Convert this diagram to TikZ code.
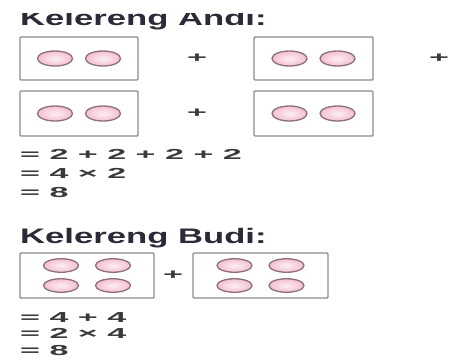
\documentclass[tikz,border=0pt]{standalone}
\usepackage{fontspec}
\setmainfont{Liberation Sans}
\usetikzlibrary{shapes.geometric}
\usepackage{xcolor}
\definecolor{titleink}{HTML}{2B2A38}
\definecolor{sumink}{HTML}{3A3A3A}
\definecolor{trayline}{HTML}{8C8C8C}
\definecolor{marblepink}{HTML}{F4BFD0}
\definecolor{marbleline}{HTML}{8E6F7E}
\newcommand{\stretchsum}[1]{\scalebox{2.35}[1]{#1}}
\newcommand{\stretchhead}[1]{\scalebox{1.65}[1]{#1}}

\begin{document}
\begin{tikzpicture}[x=1pt, y=-1pt,
  head/.style={anchor=base west, inner sep=0pt, text=titleink,
               font=\fontsize{21}{21}\selectfont\bfseries},
  sumline/.style={anchor=base west, inner sep=0pt, text=sumink,
                  font=\fontsize{14.5}{17}\selectfont\bfseries},
  plus/.style={inner sep=0pt, text=sumink, font=\fontsize{14.5}{17}\selectfont\bfseries},
  tray/.style={draw=trayline, line width=1.4pt, fill=white, rounded corners=1pt,
               inner sep=0pt},
  marble/.style={ellipse, draw=marbleline, line width=1.3pt, inner sep=0pt,
                 inner color=marblepink!25, outer color=marblepink,
                 minimum width=35, minimum height=15}]
  \fill[white] (0,0) rectangle (457,360);
  \useasboundingbox (0,0) rectangle (457,360);

  % Kelereng Andi
  \begin{scope}
    \clip (0,13) rectangle (457,40);
    \node[head] (andi) at (20,25) {\stretchhead{Kelereng Andi:}};
  \end{scope}
  \node[tray, minimum width=118, minimum height=43] (a1) at (79,58.5) {};
  \node[tray, minimum width=119, minimum height=43] (a2) at (313.5,58.5) {};
  \node[tray, minimum width=118, minimum height=45] (a3) at (79,113.5) {};
  \node[tray, minimum width=119, minimum height=45] (a4) at (313.5,113.5) {};
  \foreach \t in {a1,a2,a3,a4} {
    \node[marble] (\t l) at ([xshift=-24pt]\t.center) {};
    \node[marble] (\t r) at ([xshift=24pt]\t.center) {};
  }
  \node[plus] (p1) at (197,58) {\stretchsum{+}};
  \node[plus] (p2) at (439,58) {\stretchsum{+}};
  \node[plus] (p3) at (197,113) {\stretchsum{+}};
  \node[sumline] (a-sum1) at (20,159) {\stretchsum{= 2 + 2 + 2 + 2}};
  \node[sumline] (a-sum2) at (20,178) {\stretchsum{= 4 × 2}};
  \node[sumline] (a-sum3) at (20,197) {\stretchsum{= 8}};

  % Kelereng Budi
  \node[head] (budi) at (20,243) {\stretchhead{Kelereng Budi:}};
  \node[tray, minimum width=134, minimum height=45] (b1) at (87,275.5) {};
  \node[tray, minimum width=135, minimum height=45] (b2) at (260.5,275.5) {};
  \foreach \t in {b1,b2} {
    \foreach \dx/\dy/\m in {-26/-10/tl, 26/-10/tr, -26/10/bl, 26/10/br}
      \node[marble, minimum height=13.5] (\t\m) at ([xshift=\dx pt, yshift=-\dy pt]\t.center) {};
  }
  \node[plus] (p4) at (173,275) {\stretchsum{+}};
  \node[sumline] (b-sum1) at (20,322) {\stretchsum{= 4 + 4}};
  \node[sumline] (b-sum2) at (20,338) {\stretchsum{= 2 × 4}};
  \node[sumline] (b-sum3) at (20,355) {\stretchsum{= 8}};
\end{tikzpicture}
\end{document}
